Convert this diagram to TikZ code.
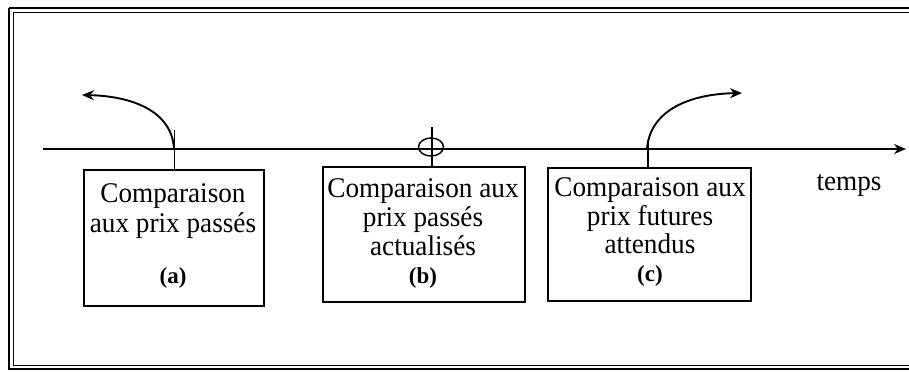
\documentclass[tikz,border=0pt]{standalone}
\usepackage{fontspec}
\setmainfont{Liberation Serif}
\usetikzlibrary{arrows.meta,shapes.geometric}
\begin{document}
\begin{tikzpicture}[x=1pt,y=-1pt,
  box/.style={draw,line width=1.8pt,minimum width=#1,inner sep=0pt,anchor=north west},
  lbl/.style={font=\fontsize{28.5}{30}\selectfont,inner sep=0pt,anchor=base,xscale=0.955},
  tag/.style={font=\fontsize{23}{24}\selectfont\bfseries,inner sep=0pt,anchor=base},
  tick/.style={line width=1.6pt},
  arr/.style={line width=1.9pt,-{Stealth[length=12pt,width=10pt]}}]
\useasboundingbox (0,0) rectangle (909,372);
% frame
\draw[line width=1.8pt] (9,8) -- (915,8) (9,8) -- (9,369) -- (915,369);
\draw[line width=1pt] (13,12) -- (915,12) (13,12) -- (13,365) -- (915,365);
% axis
\coordinate (a0) at (43,149);
\coordinate (a1) at (906,149);
\draw[line width=1.5pt,-{Stealth[length=12pt,width=10pt]}] (a0) -- (a1);
\node[lbl] (temps) at (849,190) {temps};
% boxes
\node[box=180pt,minimum height=136pt] (A) at (83,169) {};
\node[box=202pt,minimum height=135pt] (B) at (322,166) {};
\node[box=203pt,minimum height=133pt] (C) at (547,167) {};
% texts box a
\node[lbl] (A1) at (173,202) {Comparaison};
\node[lbl] (A2) at (173,232) {aux prix passés};
\node[tag] (A3) at (173,283) {(a)};
% texts box b
\node[lbl] (B1) at (423,197) {Comparaison aux};
\node[lbl] (B2) at (423,226) {prix passés};
\node[lbl] (B3) at (423,255) {actualisés};
\node[tag] (B4) at (423,283) {(b)};
% texts box c
\node[lbl] (C1) at (650,196) {Comparaison aux};
\node[lbl] (C2) at (650,225) {prix futures};
\node[lbl] (C3) at (650,253) {attendus};
\node[tag] (C4) at (650,281) {(c)};
% ticks
\coordinate (ta) at (174,130);
\coordinate (tb) at (431,127);
\coordinate (tc) at (647,140);
\draw[tick] (A.north) ++(0.5,0) coordinate (Ab) -- (Ab |- ta);
\draw[tick] (B.north) ++(8,0) coordinate (Bb) -- (Bb |- tb);
\draw[tick] (C.north) ++(-1.5,0) coordinate (Cb) -- (Cb |- tc);
% circle
\node[draw,line width=1.5pt,ellipse,minimum width=25pt,minimum height=18pt,inner sep=0pt] (circ) at (431,147) {};
% curved arrows
\coordinate (pa) at (174,149);
\coordinate (ea) at (82,95);
\coordinate (pc) at (647,149);
\coordinate (ec) at (742,93);
\draw[arr] (pa) .. controls (172,110) and (130,96) .. (ea);
\draw[arr] (pc) .. controls (650,110) and (690,94) .. (ec);
\end{tikzpicture}
\end{document}
